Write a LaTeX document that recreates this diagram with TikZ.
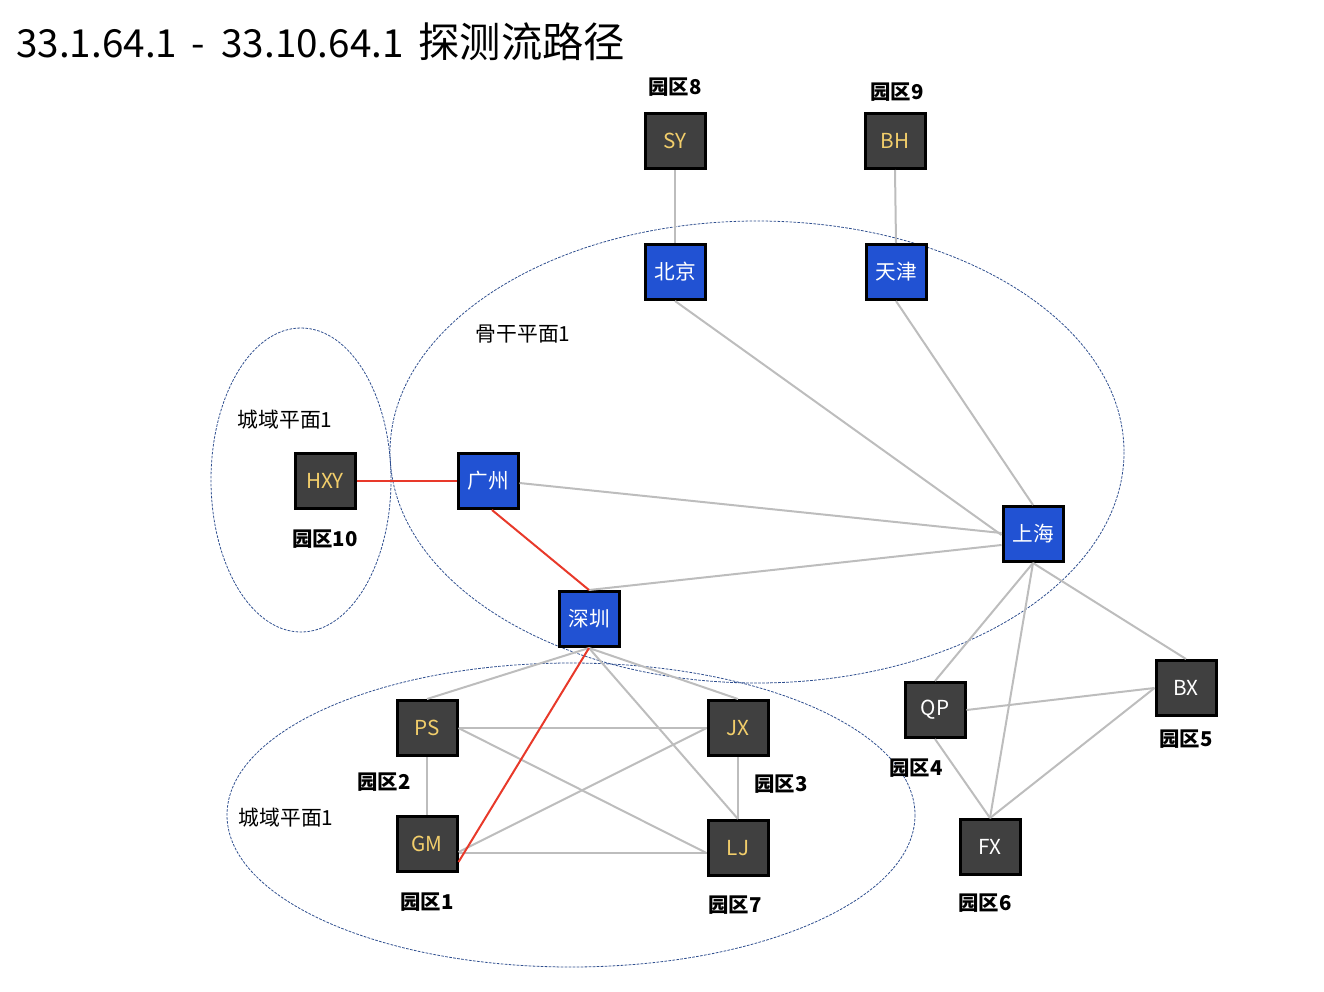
\documentclass[tikz,border=0pt]{standalone}
\usepackage{fontspec}
\setmainfont{Noto Sans CJK SC}
\usetikzlibrary{calc}
\definecolor{nodeblue}{HTML}{2152D3}
\definecolor{nodedark}{HTML}{404040}
\definecolor{nodeyellow}{HTML}{F2CE6B}
\definecolor{edgegray}{HTML}{BDBDBD}
\definecolor{pathred}{HTML}{E8392A}
\definecolor{zoneblue}{HTML}{2F4F8F}
\tikzset{
  box/.style={draw=black, line width=2.25pt, minimum width=45pt, minimum height=41.25pt, inner sep=0pt, font=\fontsize{15.5}{17}\selectfont},
  city/.style={box, fill=nodeblue, text=white},
  park/.style={box, fill=nodedark, text=nodeyellow},
  parkw/.style={box, fill=nodedark, text=white},
  lbl/.style={font=\fontsize{15.3}{17}\selectfont\bfseries, inner sep=0pt},
  zlbl/.style={font=\fontsize{15.6}{17}\selectfont, inner sep=0pt},
  link/.style={draw=edgegray, line width=1.5pt},
  red/.style={draw=pathred, line width=1.5pt},
  zone/.style={draw=zoneblue, line width=0.6pt, dash pattern=on 2pt off 1pt},
}
\begin{document}
\begin{tikzpicture}[x=0.75pt,y=-0.75pt]
\useasboundingbox (0,0) rectangle (1324,992);
% zones
\draw[zone] (757,452) ellipse [x radius=367, y radius=231];
\draw[zone] (301,480) ellipse [x radius=90, y radius=152];
\draw[zone] (571,815) ellipse [x radius=344, y radius=152];
% title
\node[anchor=west, inner sep=0pt, font=\fontsize{29}{32}\selectfont] (title) at (16,42) {33.1.64.1\hspace{11pt}-\hspace{12pt}33.10.64.1\hspace{11pt}{\fontsize{31}{32}\selectfont 探测流路径}};
% zone labels
\node[zlbl] (z1) at (523,334) {骨干平面1};
\node[zlbl] (z2) at (285,420) {城域平面1};
\node[zlbl] (z3) at (286,818) {城域平面1};
% nodes
\node[park] (SY) at (675,141) {SY};
\node[park] (BH) at (895,141) {BH};
\node[city] (BJ) at (675,272) {北京};
\node[city] (TJ) at (896,272) {天津};
\node[park] (HXY) at (325,481) {HXY};
\node[city] (GZ) at (488,481) {广州};
\node[city] (SH) at (1033,534) {上海};
\node[city] (SZ) at (589,619) {深圳};
\node[park] (PS) at (427,728) {PS};
\node[park] (JX) at (738,728) {JX};
\node[park] (GM) at (427,844) {GM};
\node[park] (LJ) at (738,848) {LJ};
\node[parkw] (QP) at (935,710) {QP};
\node[parkw] (BX) at (1186,688) {BX};
\node[parkw] (FX) at (990,847) {FX};
% labels
\node[lbl] (l8) at (675,87) {园区8};
\node[lbl] (l9) at (897,92) {园区9};
\node[lbl] (l10) at (325,539) {园区10};
\node[lbl] (l2) at (384,782) {园区2};
\node[lbl] (l3) at (781,784) {园区3};
\node[lbl] (l1) at (427,902) {园区1};
\node[lbl] (l7) at (735,905) {园区7};
\node[lbl] (l4) at (916,768) {园区4};
\node[lbl] (l5) at (1186,739) {园区5};
\node[lbl] (l6) at (985,903) {园区6};
% gray links
\draw[link] (SY.south) -- (BJ.north);
\draw[link] (BH.south) -- (TJ.north);
\draw[link] (BJ.south) -- ($(SH.west)+(0,1)$);
\draw[link] (TJ.south) -- (SH.north);
\draw[link] ($(GZ.east)+(0,2)$) -- ($(SH.west)+(0,-1)$);
\draw[link] (SZ.north) -- ($(SH.west)+(0,11)$);
\draw[link] (SH.south) -- (QP.north);
\draw[link] (SH.south) -- (FX.north);
\draw[link] (SH.south) -- (BX.north);
\draw[link] (QP.east) -- (BX.west);
\draw[link] (QP.south) -- (FX.north);
\draw[link] (BX.west) -- (FX.north);
\draw[link] (SZ.south) -- (PS.north);
\draw[link] (SZ.south) -- (JX.north);
\draw[link] (SZ.south) -- (LJ.north);
\draw[link] (PS.east) -- (JX.west);
\draw[link] (PS.east) -- ($(LJ.west)+(0,5)$);
\draw[link] (PS.south) -- (GM.north);
\draw[link] (JX.west) -- ($(GM.east)+(0,8)$);
\draw[link] ($(GM.east)+(0,9)$) -- ($(LJ.west)+(0,5)$);
\draw[link] (JX.south) -- (LJ.north);
% red path
\draw[red] (HXY.east) -- (GZ.west);
\draw[red] ($(GZ.south)+(4,0)$) -- (SZ.north);
\draw[red] (SZ.south) -- ($(GM.east)+(0,18)$);
\end{tikzpicture}
\end{document}
